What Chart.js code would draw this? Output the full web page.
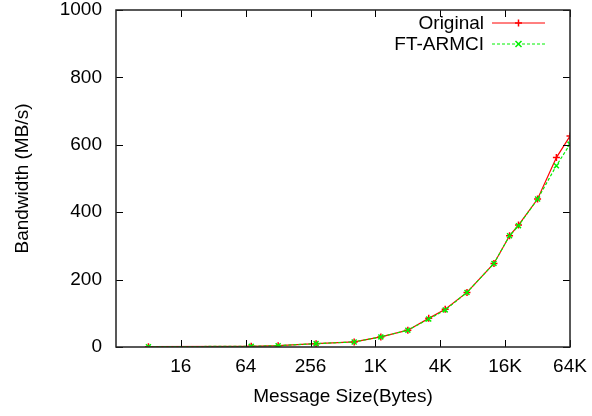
<!DOCTYPE html>
<html lang="en">
<head>
    <meta charset="UTF-8">
    <title>Bandwidth vs Message Size</title>
    <script src="https://cdn.jsdelivr.net/npm/chart.js"></script>
    <style>
        body { margin: 0; background: #fff; }
        #bwChart { display: block; }
    </style>
</head>
<body>
    <canvas id="bwChart" width="592" height="416"></canvas>

    <script>
        // message sizes in bytes
        const messageSizes = [8, 72, 128, 288, 650, 1150, 2048, 3200, 4550, 7250, 12900, 18000, 21800, 32768, 49000, 65536];
        const originalBw = [1, 2, 4, 10, 15, 30, 50, 85, 112, 162, 248, 330, 362, 439, 562, 626];
        const ftArmciBw = [1, 2, 4, 10, 15, 30, 50, 83, 110, 162, 248, 330, 360, 439, 538, 602];
        const xTickValues = [16, 64, 256, 1024, 4096, 16384, 65536];
        const yTickValues = [0, 200, 400, 600, 800, 1000];

        const FONT = "'Liberation Sans', Arial, sans-serif";
        Chart.defaults.font.family = FONT;
        Chart.defaults.color = "#000";

        function sizeLabel(v) {
            return v >= 1024 ? (v / 1024) + "K" : String(v);
        }

        // gnuplot style frame, inward ticks and key
        const framePlugin = {
            id: "frame",
            afterDraw(chart) {
                const { ctx, chartArea: { left, right, top, bottom }, scales: { x, y } } = chart;
                ctx.save();
                ctx.strokeStyle = "#000";
                ctx.lineWidth = 1;
                yTickValues.forEach(v => {
                    const py = Math.round(y.getPixelForValue(v)) + 0.5;
                    ctx.beginPath();
                    ctx.moveTo(left, py); ctx.lineTo(left + 7, py);
                    ctx.moveTo(right, py); ctx.lineTo(right - 7, py);
                    ctx.stroke();
                });
                xTickValues.forEach(v => {
                    const px = Math.round(x.getPixelForValue(v)) + 0.5;
                    ctx.beginPath();
                    ctx.moveTo(px, bottom); ctx.lineTo(px, bottom - 7);
                    ctx.moveTo(px, top); ctx.lineTo(px, top + 7);
                    ctx.stroke();
                });
                ctx.lineWidth = 1.5;
                ctx.strokeStyle = "#222";
                ctx.strokeRect(left, top, right - left, bottom - top);

                // key
                ctx.font = "19px " + FONT;
                ctx.textAlign = "right";
                ctx.textBaseline = "middle";
                ctx.fillStyle = "#000";
                [chart.data.datasets[0], chart.data.datasets[1]].forEach((ds, i) => {
                    const ky = 23 + i * 21;
                    ctx.fillText(ds.label, 484, ky + 1);
                    ctx.strokeStyle = ds.borderColor;
                    ctx.lineWidth = 1;
                    ctx.setLineDash(ds.borderDash || []);
                    ctx.beginPath();
                    ctx.moveTo(492, ky); ctx.lineTo(545, ky);
                    ctx.stroke();
                    ctx.setLineDash([]);
                    ctx.lineWidth = 1.5;
                    ctx.beginPath();
                    if (ds.pointStyle === "cross") {
                        ctx.moveTo(518.5, ky - 3.5); ctx.lineTo(518.5, ky + 3.5);
                        ctx.moveTo(515, ky); ctx.lineTo(522, ky);
                    } else {
                        ctx.moveTo(515.5, ky - 3); ctx.lineTo(521.5, ky + 3);
                        ctx.moveTo(515.5, ky + 3); ctx.lineTo(521.5, ky - 3);
                    }
                    ctx.stroke();
                });
                ctx.restore();
            }
        };

        new Chart(document.getElementById("bwChart"), {
            type: "line",
            data: {
                datasets: [
                    {
                        label: "Original",
                        data: messageSizes.map((s, i) => ({ x: s, y: originalBw[i] })),
                        borderColor: "#ff0000",
                        backgroundColor: "#ff0000",
                        borderWidth: 1.2,
                        pointStyle: "cross",
                        pointRadius: 3.5,
                        pointBorderWidth: 1.5,
                        tension: 0,
                        order: 1
                    },
                    {
                        label: "FT-ARMCI",
                        data: messageSizes.map((s, i) => ({ x: s, y: ftArmciBw[i] })),
                        borderColor: "#00f000",
                        backgroundColor: "#00f000",
                        borderWidth: 1.2,
                        borderDash: [3, 2],
                        pointStyle: "crossRot",
                        pointRadius: 3.5,
                        pointBorderWidth: 1.5,
                        tension: 0,
                        order: 0
                    }
                ]
            },
            options: {
                responsive: false,
                animation: false,
                layout: { padding: { top: 10, right: 22, left: 0, bottom: 0 } },
                plugins: { legend: { display: false }, tooltip: { enabled: false } },
                scales: {
                    x: {
                        type: "logarithmic",
                        min: 4,
                        max: 65536,
                        grid: { display: false, drawTicks: false },
                        border: { display: false },
                        afterBuildTicks: axis => { axis.ticks = xTickValues.map(v => ({ value: v })); },
                        afterFit: axis => {
                            axis.height = 69;
                            axis.paddingLeft = 0;
                            axis.paddingRight = 0;
                        },
                        ticks: {
                            autoSkip: false,
                            maxRotation: 0,
                            padding: 8,
                            font: { size: 19 },
                            callback: v => sizeLabel(v)
                        },
                        title: {
                            display: true,
                            text: "Message Size(Bytes)",
                            font: { size: 19 },
                            padding: { top: 0, bottom: 8 }
                        }
                    },
                    y: {
                        min: 0,
                        max: 1000,
                        grid: { display: false, drawTicks: false },
                        border: { display: false },
                        afterBuildTicks: axis => { axis.ticks = yTickValues.map(v => ({ value: v })); },
                        afterFit: axis => {
                            axis.width = 116;
                            axis.paddingTop = 0;
                            axis.paddingBottom = 0;
                        },
                        ticks: {
                            padding: 14,
                            font: { size: 19 },
                            callback: v => String(v)
                        },
                        title: {
                            display: true,
                            text: "Bandwidth (MB/s)",
                            font: { size: 19 },
                            padding: { top: 11, bottom: 0 }
                        }
                    }
                }
            },
            plugins: [framePlugin]
        });
    </script>
</body>
</html>
